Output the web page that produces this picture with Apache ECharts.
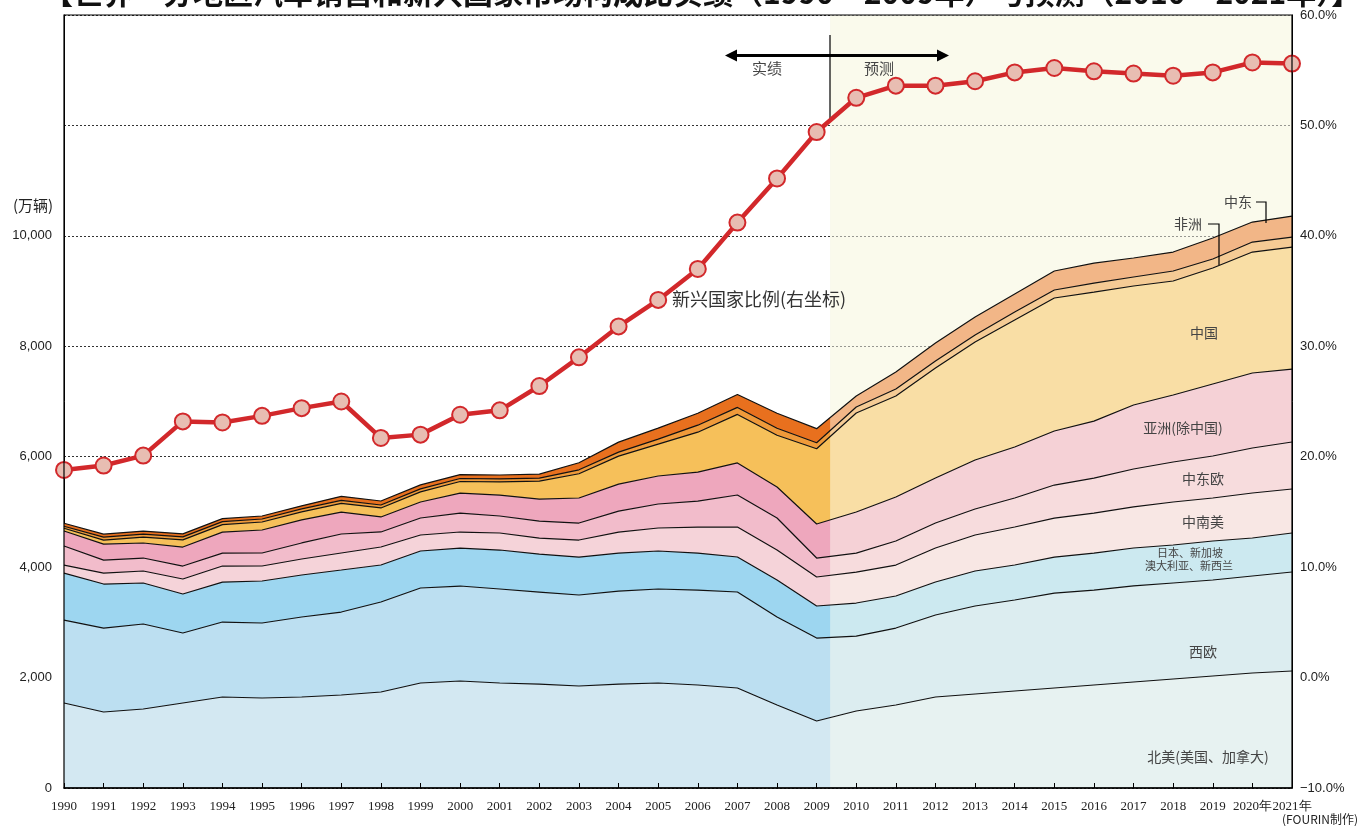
<!DOCTYPE html>
<html><head><meta charset="utf-8">
<script src="https://cdn.jsdelivr.net/npm/echarts@6/dist/echarts.min.js"></script>
<style>html,body{margin:0;padding:0;background:#fff}#c{width:1360px;height:826px}</style>
</head><body><div id="c"></div>
<script>
const years = ['1990','1991','1992','1993','1994','1995','1996','1997','1998','1999','2000','2001','2002','2003','2004','2005','2006','2007','2008','2009','2010','2011','2012','2013','2014','2015','2016','2017','2018','2019','2020','2021'];
// 万辆
const northAmerica = [1539,1376,1431,1539,1648,1630,1648,1684,1739,1902,1938,1902,1883,1847,1883,1902,1865,1811,1503,1213,1394,1503,1648,1702,1757,1811,1865,1920,1974,2028,2083,2119];
const westernEurope = [1503,1521,1539,1268,1358,1358,1449,1503,1630,1720,1720,1702,1666,1648,1684,1702,1720,1739,1594,1503,1358,1394,1485,1594,1648,1720,1720,1739,1739,1739,1757,1793];
const japanOceania = [851,797,743,706,724,761,761,761,670,670,688,706,688,688,688,688,670,634,670,580,598,580,598,634,634,652,670,688,688,706,688,706];
const latinAmerica = [145,199,217,272,290,272,290,308,326,290,290,308,290,308,380,417,471,543,543,525,561,561,616,652,688,706,724,743,779,779,815,797];
const centralEastEurope = [344,235,235,235,235,235,290,344,272,308,344,308,308,308,380,435,471,580,580,344,344,435,453,471,525,598,634,688,724,761,815,851];
const asiaExChina = [272,290,272,344,380,417,417,398,272,290,362,380,398,453,489,507,525,580,561,616,743,797,815,887,924,978,1032,1159,1213,1304,1358,1322];
const china = [51,71,108,130,135,145,147,158,163,183,209,237,325,439,507,576,722,879,938,1364,1793,1829,1992,2137,2300,2409,2336,2155,2065,2101,2191,2209];
const africa = [36,54,54,54,54,54,54,54,54,54,54,54,54,72,72,91,127,127,127,109,109,127,127,127,145,145,163,163,181,163,181,181];
const middleEast = [54,54,54,54,54,54,54,72,72,72,72,72,72,127,181,199,217,235,272,254,200,308,326,326,326,344,362,344,344,380,362,380];
// 新兴国家比例 (%)
const emergingShare = [18.8,19.2,20.1,23.2,23.1,23.7,24.4,25.0,21.7,22.0,23.8,24.2,26.4,29.0,31.8,34.2,37.0,41.2,45.2,49.4,52.5,53.6,53.6,54.0,54.8,55.2,54.9,54.7,54.5,54.8,55.7,55.6];
const leftTicks = [0,2000,4000,6000,8000,10000];
const rightTicks = [-10,0,10,20,30,40,50,60];

const layers = [
  {name:'北美', data:northAmerica, color:'#D3E8F2'},
  {name:'西欧', data:westernEurope, color:'#BCDFF1'},
  {name:'日本、新加坡、澳大利亚、新西兰', data:japanOceania, color:'#9DD6F0'},
  {name:'中南美', data:latinAmerica, color:'#F5D3D9'},
  {name:'中东欧', data:centralEastEurope, color:'#F2BCCB'},
  {name:'亚洲(除中国)', data:asiaExChina, color:'#EEA7BD'},
  {name:'中国', data:china, color:'#F6C05A'},
  {name:'非洲', data:africa, color:'#EF9A3A'},
  {name:'中东', data:middleEast, color:'#E8701E'}
];

const chart = echarts.init(document.getElementById('c'));
const series = [];
series.push({type:'line', xAxisIndex:1, yAxisIndex:0, data:[[0,0]], symbol:'none', lineStyle:{width:0}, silent:true, z:0,
  markArea:{silent:true, z:0, itemStyle:{color:'#F9F9E9'}, data:[[{xAxis:19.34},{xAxis:31}]]}});
layers.forEach(l=>{
  series.push({type:'line', name:l.name, stack:'fill', data:l.data, symbol:'none', lineStyle:{width:0},
    areaStyle:{color:l.color, opacity:1}, z:2, silent:true});
});
series.push({type:'line', xAxisIndex:1, yAxisIndex:0, data:[[0,0]], symbol:'none', lineStyle:{width:0}, silent:true, z:3,
  markArea:{silent:true, z:3, itemStyle:{color:'rgba(251,251,240,0.5)'}, data:[[{xAxis:19.34},{xAxis:31}]]}});
layers.forEach(l=>{
  series.push({type:'line', stack:'edge', data:l.data, symbol:'none', lineStyle:{width:1.2, color:'#111'}, z:4, silent:true});
});
series.push({type:'line', yAxisIndex:1, data:emergingShare, symbol:'circle', symbolSize:16, clip:false,
  lineStyle:{color:'#D2282B', width:4.5}, itemStyle:{color:'#E8BDB2', borderColor:'#D2282B', borderWidth:2}, z:6});

const lbl = (text,x,y,size)=>({type:'text', z:20, style:{text, x, y, fill:'#444', font:(size||14)+'px "Noto Sans CJK SC"', textAlign:'center', textVerticalAlign:'middle'}});

chart.setOption({
  animation:false,
  title:{text:'【世界・分地区汽车销售和新兴国家市场构成比实绩（1990～2009年）与预测（2010～2021年）】', left:38, top:-27,
    textStyle:{fontSize:30, fontWeight:'bold', color:'#111', fontFamily:'Noto Sans CJK SC'}},
  grid:{left:64, right:68, top:15, bottom:38, show:false},
  xAxis:[
    {type:'category', data:years, boundaryGap:false, z:5,
     axisLine:{lineStyle:{color:'#000', width:1.5}},
     axisTick:{inside:true, length:5, lineStyle:{color:'#000'}, alignWithLabel:true},
     axisLabel:{interval:0, margin:12, color:'#222', fontSize:13, fontFamily:'Liberation Serif',
       formatter:(v)=> (v==='2020'||v==='2021') ? v+'年' : v}},
    {type:'value', min:0, max:31, show:false}
  ],
  yAxis:[
    {type:'value', min:0, max:14000, interval:2000, z:1,
     axisLine:{show:true, lineStyle:{color:'#000'}}, axisTick:{show:false},
     axisLabel:{margin:12, color:'#222', fontSize:13, fontFamily:'Liberation Sans',
       formatter:(v)=> leftTicks.indexOf(v)>=0 ? v.toLocaleString('en-US') : ''},
     splitLine:{show:true, lineStyle:{color:'#333', type:[2,2], width:1}}},
    {type:'value', min:-10, max:60, interval:10, position:'right',
     axisLine:{show:true, lineStyle:{color:'#000'}}, axisTick:{show:false},
     axisLabel:{margin:8, color:'#222', fontSize:13, fontFamily:'Liberation Sans Narrow, Liberation Sans',
       formatter:(v)=> rightTicks.indexOf(v)>=0 ? (v<0?'−':'')+Math.abs(v).toFixed(1)+'%' : ''},
     splitLine:{show:false}}
  ],
  series,
  graphic:[
    {type:'rect', z:15, shape:{x:64, y:15, width:1228, height:773}, style:{fill:null, stroke:'#000', lineWidth:1.2}, silent:true},
    {type:'line', z:5, shape:{x1:830, y1:35, x2:830, y2:121}, style:{stroke:'#000', lineWidth:1.2}},
    {type:'line', z:20, shape:{x1:734, y1:55.5, x2:940, y2:55.5}, style:{stroke:'#000', lineWidth:3}},
    {type:'polygon', z:20, shape:{points:[[725,55.5],[737,49.5],[737,61.5]]}, style:{fill:'#000'}},
    {type:'polygon', z:20, shape:{points:[[949,55.5],[937,49.5],[937,61.5]]}, style:{fill:'#000'}},
    lbl('实绩',767,68,15), lbl('预测',879,68,15),
    {type:'text', z:20, style:{text:'新兴国家比例(右坐标)', x:672, y:299, fill:'#333', font:'18px "Noto Sans CJK SC"', textAlign:'left', textVerticalAlign:'middle'}},
    lbl('中东',1238,202), lbl('非洲',1188,224),
    {type:'polyline', z:20, shape:{points:[[1256,202],[1266,202],[1266,223]]}, style:{stroke:'#000', lineWidth:1.2, fill:null}},
    {type:'polyline', z:20, shape:{points:[[1208,224],[1219,224],[1219,265]]}, style:{stroke:'#000', lineWidth:1.2, fill:null}},
    lbl('中国',1204,333), lbl('亚洲(除中国)',1183,428), lbl('中东欧',1203,479), lbl('中南美',1203,522),
    lbl('日本、新加坡',1190,553,11), lbl('澳大利亚、新西兰',1189,566,11),
    lbl('西欧',1203,652), lbl('北美(美国、加拿大)',1208,757),
    {type:'text', z:20, style:{text:'(万辆)', x:33, y:205, fill:'#222', font:'15px "Noto Sans CJK SC"', textAlign:'center', textVerticalAlign:'middle'}},
    {type:'text', z:20, style:{text:'(FOURIN制作)', x:1358, y:819, fill:'#222', font:'12px "Noto Sans CJK SC"', textAlign:'right', textVerticalAlign:'middle'}}
  ]
});
</script></body></html>
